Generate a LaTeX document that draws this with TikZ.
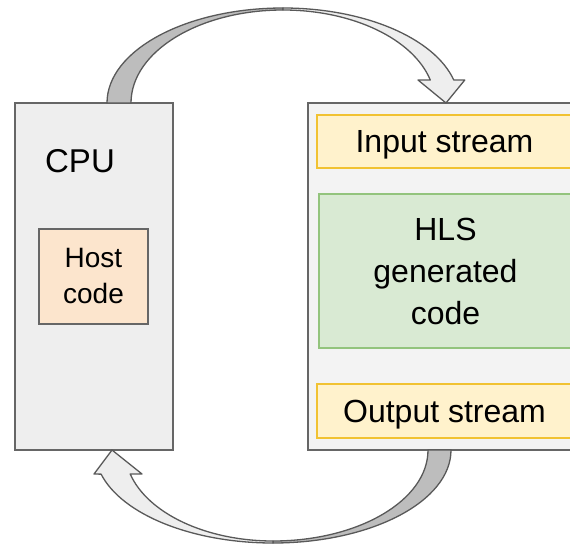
\documentclass[tikz,border=0pt]{standalone}
\usepackage{fontspec}
\setmainfont{Liberation Sans}
\usetikzlibrary{positioning}
\definecolor{linegray}{HTML}{666666}
\definecolor{arrowline}{HTML}{595959}
\definecolor{cpugray}{HTML}{EEEEEE}
\definecolor{fpgagray}{HTML}{F3F3F3}
\definecolor{streamfill}{HTML}{FFF2CC}
\definecolor{streamline}{HTML}{F1C232}
\definecolor{hlsfill}{HTML}{D9EAD3}
\definecolor{hlsline}{HTML}{93C47D}
\definecolor{hostfill}{HTML}{FCE5CD}
\definecolor{backside}{HTML}{BDBDBD}
\definecolor{frontside}{HTML}{EEEEEE}
\tikzset{box/.style={rectangle,line width=1.3pt,inner sep=0pt}}
\tikzset{cpubox/.style={box,draw=linegray,fill=cpugray}}
\tikzset{fpgabox/.style={box,draw=linegray,fill=fpgagray}}
\tikzset{streambox/.style={box,draw=streamline,fill=streamfill,text depth=0pt,font=\fontsize{32}{38}\selectfont}}
\tikzset{hlsbox/.style={box,draw=hlsline,fill=hlsfill,align=center,font=\fontsize{32}{42}\selectfont}}
\tikzset{hostbox/.style={box,draw=linegray,fill=hostfill,align=center,font=\fontsize{28}{36}\selectfont}}
\tikzset{backband/.style={draw=arrowline,fill=backside,line width=1.3pt,line join=round}}
\tikzset{frontband/.style={draw=arrowline,fill=frontside,line width=1.3pt,line join=round}}

\begin{document}
\begin{tikzpicture}[x=1pt,y=-1pt]
\useasboundingbox (0,0) rectangle (570,546);
\clip (0,0) rectangle (570,546);

% boxes
\node[cpubox,minimum width=158pt,minimum height=347pt] (cpu) at (94,276.5) {};
\node[font=\fontsize{33}{40}\selectfont] (cpulabel) at (80,161) {CPU};
\node[hostbox,minimum width=109pt,minimum height=95pt] (host) at (93.5,276.5) {Host\\code};

\node[fpgabox,minimum width=272pt,minimum height=347pt] (fpga) at (444,276.5) {};
\node[streambox,minimum width=255pt,minimum height=53pt] (in) at (444.5,141.5) {Input stream};
\node[hlsbox,minimum width=253pt,minimum height=154pt] (hls) at (445.5,271) {HLS\\generated\\code};
\node[streambox,minimum width=255pt,minimum height=54pt] (out) at (444.5,411) {Output stream};

% upper arrow, cpu to fpga
\coordinate (upc) at (283,103);
\draw[backband] ([xshift=-176pt]upc) arc[start angle=180,end angle=90,x radius=176pt,y radius=95pt]
  -- ([yshift=93pt]upc) arc[start angle=90,end angle=180,x radius=152pt,y radius=93pt] -- cycle;
\draw[frontband] ([yshift=95pt]upc) arc[start angle=90,end angle=14,x radius=176pt,y radius=95pt]
  -- ++(11,0) -- ([xshift=163pt]upc) -- ([xshift=135pt,yshift=23pt]upc)
  -- ([xshift=147.3pt,yshift=23pt]upc) arc[start angle=14.32,end angle=90,x radius=152pt,y radius=93pt] -- cycle;

% lower arrow, fpga to cpu
\coordinate (loc) at (273,450);
\draw[backband] ([xshift=178pt]loc) arc[start angle=0,end angle=-90,x radius=178pt,y radius=93pt]
  -- ([yshift=-91pt]loc) arc[start angle=-90,end angle=0,x radius=155pt,y radius=91pt] -- cycle;
\draw[frontband] ([yshift=-93pt]loc) arc[start angle=270,end angle=195.05,x radius=178pt,y radius=93pt]
  -- ([xshift=-179pt,yshift=-24pt]loc) -- ([xshift=-161pt]loc) -- ([xshift=-131pt,yshift=-24pt]loc)
  -- ([xshift=-142.8pt,yshift=-24pt]loc) arc[start angle=195.3,end angle=270,x radius=148pt,y radius=91pt] -- cycle;

\end{tikzpicture}
\end{document}
